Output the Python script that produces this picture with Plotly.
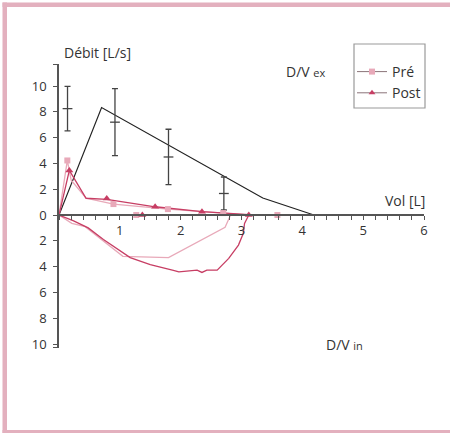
import plotly.graph_objects as go

# ---------------- data ----------------
pred_vol = [0, 0.70, 3.35, 4.19]
pred_flow = [0, 8.33, 1.32, 0]

ref_vol = [0.14, 0.92, 1.80, 2.71]
ref_mean = [8.25, 7.2, 4.5, 1.67]
ref_sd = [1.72, 2.6, 2.15, 1.28]

pre_ex_vol = [0, 0.137, 0.20, 0.445, 0.895, 1.79, 2.70, 3.05, 3.59]
pre_ex_flow = [0, 4.23, 2.7, 1.3, 0.85, 0.46, 0.15, 0.03, 0]
pre_in_vol = [0, 0.21, 0.43, 1.05, 1.80, 2.73, 2.82]
pre_in_flow = [0, -0.65, -0.9, -3.2, -3.3, -0.95, 0]
pre_mk_vol = [0.137, 0.895, 1.79, 2.70, 1.27, 3.59]
pre_mk_flow = [4.23, 0.85, 0.46, 0.15, 0, 0]

post_ex_vol = [0, 0.17, 0.445, 0.785, 1.58, 2.35, 3.12]
post_ex_flow = [0, 3.46, 1.3, 1.22, 0.64, 0.26, 0.03]
post_in_vol = [0, 0.24, 0.48, 0.73, 1.17, 1.50, 1.88, 1.97, 2.27, 2.35, 2.43, 2.60, 2.79, 2.95, 3.03, 3.05, 3.12]
post_in_flow = [0, -0.45, -1.0, -1.9, -3.3, -3.85, -4.3, -4.4, -4.27, -4.45, -4.27, -4.27, -3.36, -2.33, -1.42, -0.65, 0]
post_mk_vol = [0.17, 0.785, 1.58, 2.35, 1.37, 3.12]
post_mk_flow = [3.46, 1.28, 0.64, 0.25, 0, 0]

x_ticks = [round(i * 0.2, 1) for i in range(31)]
x_ticktext = [str(int(v)) if (abs(v - round(v)) < 1e-9 and v > 0) else "" for v in x_ticks]
y_ticks = [-10, -8, -6, -4, -2, 0, 2, 4, 6, 8, 10]
y_ticktext = ["10", "8", "6", "4", "2", "0", "2", "4", "6", "8", "10"]

# ---------------- styles ----------------
PRE = "#e8a9b9"
POST = "#c73e64"
AX = "#555555"
TXT = "#333333"
FONT = "Open Sans"
BORDER = "#e3b0be"

Y0, Y1 = -10.31, 11.71
XPOS = (0 - Y0) / (Y1 - Y0)

fig = go.Figure()

fig.add_trace(go.Scatter(x=pred_vol, y=pred_flow, mode="lines",
                         line=dict(color="#222222", width=1.2),
                         showlegend=False, hoverinfo="skip"))
fig.add_trace(go.Scatter(x=ref_vol, y=ref_mean, mode="markers",
                         marker=dict(symbol="line-ew", size=7,
                                     line=dict(color="#444444", width=1.3)),
                         error_y=dict(type="data", array=ref_sd, color="#444444",
                                      thickness=1.3, width=3),
                         showlegend=False, hoverinfo="skip"))

fig.add_trace(go.Scatter(x=pre_in_vol, y=pre_in_flow, mode="lines",
                         line=dict(color=PRE, width=1.3), showlegend=False))
fig.add_trace(go.Scatter(x=post_in_vol, y=post_in_flow, mode="lines",
                         line=dict(color=POST, width=1.3), showlegend=False))
fig.add_trace(go.Scatter(x=pre_ex_vol, y=pre_ex_flow, mode="lines",
                         line=dict(color=PRE, width=1.3), showlegend=False))
fig.add_trace(go.Scatter(x=post_ex_vol, y=post_ex_flow, mode="lines",
                         line=dict(color=POST, width=1.3), showlegend=False))
fig.add_trace(go.Scatter(x=pre_mk_vol, y=pre_mk_flow, mode="markers",
                         marker=dict(symbol="square", size=6, color=PRE),
                         showlegend=False))
fig.add_trace(go.Scatter(x=post_mk_vol, y=post_mk_flow, mode="markers",
                         marker=dict(symbol="triangle-up", size=7, color=POST),
                         showlegend=False))

# legend entries
fig.add_trace(go.Scatter(x=[None], y=[None], mode="lines+markers", name="Pré",
                         line=dict(color="#8a7479", width=1),
                         marker=dict(symbol="square", size=6, color=PRE)))
fig.add_trace(go.Scatter(x=[None], y=[None], mode="lines+markers", name="Post",
                         line=dict(color="#8a7479", width=1),
                         marker=dict(symbol="triangle-up", size=6, color=POST)))

def px_x(px):
    return (px - 59) / 365.0

def px_y(py):
    return (348 - py) / 284.0

def band(x0, x1, y0, y1):
    return dict(type="rect", xref="paper", yref="paper",
                x0=px_x(x0), x1=px_x(x1), y0=px_y(y1), y1=px_y(y0),
                line=dict(width=0), fillcolor=BORDER)

fig.update_layout(
    width=450, height=433,
    margin=dict(l=59, r=26, t=64, b=85),
    paper_bgcolor="white", plot_bgcolor="white",
    font=dict(family=FONT, size=13, color=TXT),
    xaxis=dict(range=[0, 6], anchor="free", position=XPOS,
               tickmode="array", tickvals=x_ticks, ticktext=x_ticktext,
               ticks="outside", ticklen=4, tickwidth=1, tickcolor=AX,
               showline=True, linecolor=AX, linewidth=1.5,
               showgrid=False, zeroline=False,
               tickfont=dict(family=FONT, size=13, color=TXT)),
    yaxis=dict(range=[Y0, Y1], tickmode="array",
               tickvals=y_ticks + [Y0 + 0.02, Y1 - 0.02],
               ticktext=y_ticktext + ["", ""],
               ticks="outside", ticklen=4, tickwidth=1, tickcolor=AX,
               ticklabelstandoff=4,
               showline=True, linecolor=AX, linewidth=1.5,
               showgrid=False, zeroline=False,
               tickfont=dict(family=FONT, size=13, color=TXT)),
    legend=dict(x=px_x(352), y=px_y(56), xanchor="left", yanchor="top",
                bgcolor="rgba(0,0,0,0)", borderwidth=0,
                font=dict(family=FONT, size=14, color=TXT),
                itemwidth=30, tracegroupgap=0),
    shapes=[
        band(2.5, 7, 2.5, 434),
        band(2.5, 450, 2.5, 7),
        band(2.5, 450, 430, 434),
        dict(type="rect", xref="paper", yref="paper",
             x0=px_x(354), x1=px_x(425), y0=px_y(108), y1=px_y(44),
             line=dict(color="#9a9a9a", width=1.2), fillcolor="rgba(0,0,0,0)"),
    ],
    annotations=[
        dict(text="Débit [L/s]", xref="paper", yref="paper", x=px_x(62), y=px_y(53),
             xanchor="left", yanchor="middle", showarrow=False,
             font=dict(family=FONT, size=14, color=TXT)),
        dict(text="D/V <span style='font-size:11px'>ex</span>", xref="paper", yref="paper",
             x=px_x(284), y=px_y(72), xanchor="left", yanchor="middle", showarrow=False,
             font=dict(family=FONT, size=14, color=TXT)),
        dict(text="Vol [L]", xref="paper", yref="paper", x=px_x(427), y=px_y(200),
             xanchor="right", yanchor="middle", showarrow=False,
             font=dict(family=FONT, size=14, color=TXT)),
        dict(text="D/V <span style='font-size:11px'>in</span>", xref="paper", yref="paper",
             x=px_x(324), y=px_y(344), xanchor="left", yanchor="middle", showarrow=False,
             font=dict(family=FONT, size=14, color=TXT)),
    ],
)

fig.write_html("out.html", config={"displayModeBar": False},
               post_script="document.body.style.margin='0';document.body.style.overflow='hidden';")
